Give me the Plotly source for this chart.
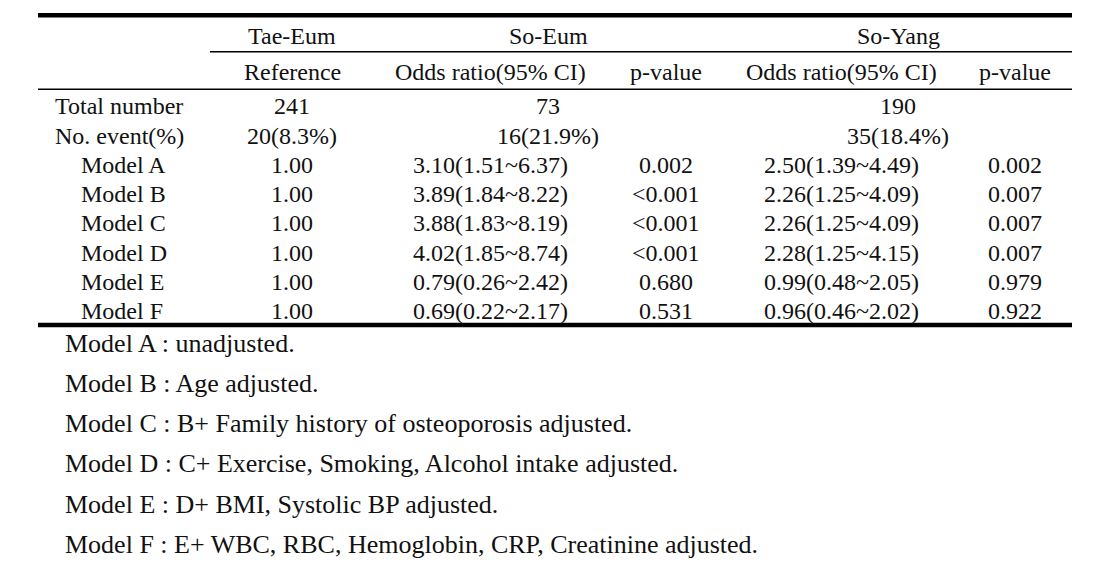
import plotly.graph_objects as go

# ---- data ----
group_labels = ["Tae-Eum", "So-Eum", "So-Yang"]
sub_labels = ["Reference", "Odds ratio(95% CI)", "p-value", "Odds ratio(95% CI)", "p-value"]
summary_labels = ["Total number", "No. event(%)"]
total_number = ["241", "73", "190"]
no_event = ["20(8.3%)", "16(21.9%)", "35(18.4%)"]
models = ["Model A", "Model B", "Model C", "Model D", "Model E", "Model F"]
tae_eum_ref = ["1.00", "1.00", "1.00", "1.00", "1.00", "1.00"]
so_eum_or = ["3.10(1.51~6.37)", "3.89(1.84~8.22)", "3.88(1.83~8.19)",
             "4.02(1.85~8.74)", "0.79(0.26~2.42)", "0.69(0.22~2.17)"]
so_eum_p = ["0.002", "<0.001", "<0.001", "<0.001", "0.680", "0.531"]
so_yang_or = ["2.50(1.39~4.49)", "2.26(1.25~4.09)", "2.26(1.25~4.09)",
              "2.28(1.25~4.15)", "0.99(0.48~2.05)", "0.96(0.46~2.02)"]
so_yang_p = ["0.002", "0.007", "0.007", "0.007", "0.979", "0.922"]
footnotes = [
    "Model A : unadjusted.",
    "Model B : Age adjusted.",
    "Model C : B+ Family history of osteoporosis adjusted.",
    "Model D : C+ Exercise, Smoking, Alcohol intake adjusted.",
    "Model E : D+ BMI, Systolic BP adjusted.",
    "Model F : E+ WBC, RBC, Hemoglobin, CRP, Creatinine adjusted.",
]

# ---- layout constants ----
W, H = 1094, 577
OFF = 8  # page body margin compensation
FONT = "Liberation Serif, Times New Roman, serif"
FS = 24
FS_NOTE = 26
COLOR = "#111111"

col_x = [292, 490, 666, 841, 1015]
group_x = [292, 548, 898]
y_head1, y_head2 = 36, 72
y_total, y_event = 106, 136
y_model0, dy_model = 165, 29.2
x_summary_label, x_model_label = 53, 79
y_note0, dy_note = 343, 40.3
x_note = 63
x_left, x_right = 38, 1072

fig = go.Figure()
fig.add_trace(go.Scatter(x=[OFF, W + OFF], y=[OFF, H + OFF], mode="markers",
                         marker=dict(opacity=0), hoverinfo="skip", showlegend=False))

ann = []

def txt(x, y, s, anchor="center", size=FS):
    ann.append(dict(x=x, y=y, xref="x", yref="y", text=s, showarrow=False,
                    xanchor=anchor, yanchor="middle",
                    font=dict(family=FONT, size=size, color=COLOR)))

for gx, g in zip(group_x, group_labels):
    txt(gx, y_head1, g)
for cx, s in zip(col_x, sub_labels):
    txt(cx, y_head2, s)

txt(x_summary_label, y_total, summary_labels[0], anchor="left")
txt(x_summary_label, y_event, summary_labels[1], anchor="left")
for gx, s in zip(group_x, total_number):
    txt(gx, y_total, s)
for gx, s in zip(group_x, no_event):
    txt(gx, y_event, s)

for i, m in enumerate(models):
    y = y_model0 + i * dy_model
    txt(x_model_label, y, m, anchor="left")
    txt(col_x[0], y, tae_eum_ref[i])
    txt(col_x[1], y, so_eum_or[i])
    txt(col_x[2], y, so_eum_p[i])
    txt(col_x[3], y, so_yang_or[i])
    txt(col_x[4], y, so_yang_p[i])

for i, n in enumerate(footnotes):
    txt(x_note, y_note0 + i * dy_note, n, anchor="left", size=FS_NOTE)

shapes = [
    dict(type="rect", xref="x", yref="y", x0=x_left, x1=x_right, y0=13, y1=17.5,
         fillcolor="black", line=dict(width=0)),
    dict(type="line", xref="x", yref="y", x0=210, x1=x_right, y0=51.7, y1=51.7,
         line=dict(color="black", width=1.5)),
    dict(type="line", xref="x", yref="y", x0=x_left, x1=x_right, y0=89.3, y1=89.3,
         line=dict(color="black", width=1.5)),
    dict(type="rect", xref="x", yref="y", x0=x_left, x1=x_right, y0=322.7, y1=327.3,
         fillcolor="black", line=dict(width=0)),
]

fig.update_layout(
    width=W, height=H, margin=dict(l=0, r=0, t=0, b=0),
    paper_bgcolor="white", plot_bgcolor="white",
    xaxis=dict(range=[OFF, W + OFF], visible=False, fixedrange=True),
    yaxis=dict(range=[H + OFF, OFF], visible=False, fixedrange=True),
    annotations=ann, shapes=shapes, showlegend=False,
)

fig.write_html("out.html")
